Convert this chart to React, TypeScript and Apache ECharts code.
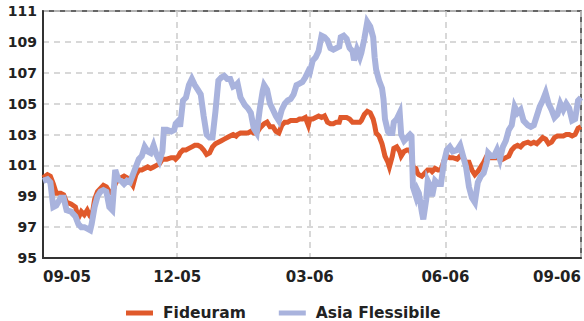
import React, { useEffect, useRef } from "react";
import * as echarts from "echarts";

const START = Date.UTC(2005, 8, 1);
const DAY = 86400000;

// day offsets from 2005-09-01
const dayOffsets = [
  0, 3, 5, 7, 9, 12, 14, 16, 19, 22, 24, 26, 28, 30, 32, 33, 35, 37, 39, 41,
  43, 45, 47, 49, 51, 53, 55, 57, 59, 61, 63, 65, 67, 69, 71, 73, 75, 77, 79, 81,
  82, 84, 87, 89, 90, 92, 93, 95, 97, 99, 101, 103, 105, 107, 109, 111, 113, 115, 117, 119,
  121, 123, 125, 127, 129, 131, 132, 134, 137, 139, 141, 143, 145, 147, 149, 150, 152, 154, 156, 158,
  160, 162, 164, 166, 168, 170, 172, 174, 176, 178, 180, 181, 183, 185, 187, 189, 191, 193, 195, 197,
  199, 201, 202, 204, 206, 208, 210, 211, 213, 215, 216, 218, 220, 222, 224, 225, 226, 228, 230, 231,
  232, 234, 235, 237, 238, 240, 242, 243, 245, 247, 249, 250, 251, 253, 254, 255, 257, 258, 260, 261,
  263, 264, 266, 268, 270, 272, 274, 276, 278, 281, 283, 285, 287, 289, 291, 293, 295, 297, 299, 301,
  302, 304, 306, 308, 310, 312, 314, 316, 318, 320, 322, 324, 326, 329, 331, 333, 335, 337, 339, 341,
  343, 345, 347, 349, 351, 353, 355, 357, 359, 361, 363, 365,
];

const fideuram = [
  100.2, 100.4, 100.3, 99.8, 99.2, 99.2, 99.1, 98.6, 98.5, 98.3, 97.6, 98.0, 97.8, 98.1, 97.7, 97.6, 98.8, 99.3, 99.5, 99.7,
  99.6, 99.3, 99.2, 99.8, 100.1, 100.2, 100.3, 100.2, 100.0, 99.7, 100.4, 100.7, 100.7, 100.8, 100.9, 100.8, 100.9, 101.0, 101.1, 101.4,
  101.4, 101.4, 101.5, 101.5, 101.4, 101.6, 101.8, 102.0, 102.0, 102.1, 102.2, 102.3, 102.3, 102.2, 102.0, 101.7, 101.8, 102.2, 102.4, 102.5,
  102.6, 102.7, 102.8, 102.9, 103.0, 102.9, 103.0, 103.1, 103.1, 103.1, 103.2, 103.1, 103.1, 103.4, 103.6, 103.7, 103.8, 103.5, 103.5, 103.2,
  103.1, 103.6, 103.8, 103.8, 103.9, 103.9, 103.9, 104.0, 104.0, 104.1, 103.6, 104.0, 104.0, 104.1, 104.2, 104.1, 104.2, 103.8, 103.7, 103.7,
  103.8, 103.8, 104.1, 104.1, 104.1, 104.0, 103.8, 103.8, 103.8, 103.8, 103.9, 104.3, 104.5, 104.4, 104.0, 103.6, 103.1, 102.9, 102.4, 102.0,
  101.6, 101.2, 100.9, 101.6, 102.1, 102.2, 101.9, 101.6, 101.9, 102.0, 102.0, 101.7, 100.9, 100.8, 100.5, 100.4, 100.3, 100.4, 100.6, 100.7,
  100.7, 100.6, 100.8, 100.7, 100.7, 101.3, 101.6, 101.5, 101.5, 101.4, 101.6, 101.5, 101.2, 101.2, 100.7, 100.4, 100.6, 100.9, 101.2, 101.6,
  101.7, 101.5, 101.5, 101.5, 101.6, 101.4, 101.5, 101.6, 102.0, 102.2, 102.3, 102.2, 102.4, 102.5, 102.4, 102.5, 102.4, 102.6, 102.8, 102.7,
  102.4, 102.5, 102.8, 102.9, 102.9, 102.9, 103.0, 103.0, 102.9, 103.0, 103.4, 103.5,
];

const asiaFlessibile = [
  100.0, 100.1, 99.9, 98.3, 98.4, 98.9, 98.9, 98.1, 98.0, 97.7, 97.2, 97.0, 97.0, 96.9, 96.8, 97.2, 98.3, 99.0, 99.3, 99.4,
  99.3, 98.3, 98.1, 100.7, 100.1, 100.0, 99.8, 100.0, 99.9, 100.4, 100.9, 101.4, 101.6, 102.2, 101.9, 101.8, 102.3, 101.7, 101.3, 101.9,
  103.3, 103.3, 103.2, 103.3, 103.7, 103.9, 103.5, 105.2, 105.4, 106.2, 106.6, 106.2, 105.9, 105.6, 104.2, 103.0, 102.8, 102.8, 104.5, 106.5,
  106.7, 106.8, 106.6, 106.6, 106.1, 106.2, 106.3, 105.4, 104.9, 104.7, 104.4, 103.4, 103.1, 104.6, 105.8, 106.2, 105.9, 105.0, 104.6, 104.2,
  103.9, 104.6, 105.0, 105.2, 105.3, 105.6, 106.2, 106.3, 106.4, 106.7, 107.1, 107.0, 107.8, 108.0, 108.4, 109.4, 109.3, 109.1, 108.6, 108.5,
  108.6, 108.7, 109.3, 109.4, 109.2, 108.6, 108.4, 107.8, 108.5, 108.0, 108.3, 109.2, 110.3, 110.0, 109.3, 108.0, 107.2, 106.5, 106.0, 105.3,
  104.0, 103.2, 103.1, 103.1, 103.8, 104.0, 104.4, 103.0, 102.6, 102.8, 103.0, 102.9, 99.6, 99.0, 99.4, 99.2, 98.0, 97.5, 98.8, 100.0,
  99.6, 99.0, 100.0, 99.8, 99.8, 101.2, 102.0, 102.2, 101.9, 102.0, 102.3, 101.6, 100.9, 99.6, 98.9, 98.6, 99.9, 100.3, 100.5, 101.2,
  101.8, 101.6, 101.6, 102.0, 101.4, 102.2, 102.6, 103.3, 103.6, 104.8, 104.4, 104.6, 103.9, 103.6, 103.5, 103.6, 104.2, 104.8, 105.2, 105.7,
  105.0, 104.6, 104.1, 104.3, 105.0, 104.6, 105.0, 104.7, 103.9, 104.0, 105.2, 105.4,
];

const seriesNames = ["Fideuram", "Asia Flessibile"];
const seriesColors = ["#E0592B", "#A9B3DD"];

// month tick positions (days from 2005-09-01) and their labels
const tickDays = [0, 91, 181, 273, 365];
const tickLabels = ["09-05", "12-05", "03-06", "06-06", "09-06"];
const yTicks = { min: 95, max: 111, interval: 2 };

export default function App() {
  const ref = useRef<HTMLDivElement>(null);
  useEffect(() => {
    if (!ref.current) return;
    document.body.style.margin = "0";
    const chart = echarts.init(ref.current, undefined, { renderer: "svg" });
    const font = "DejaVu Sans";
    const labelFor = (v: number) => {
      const i = tickDays.indexOf(Math.round(v));
      if (i >= 0) return tickLabels[i];
      const d = new Date(START + v * DAY);
      return `${String(d.getUTCMonth() + 1).padStart(2, "0")}-${String(d.getUTCFullYear() % 100).padStart(2, "0")}`;
    };
    chart.setOption({
      animation: false,
      backgroundColor: "#ffffff",
      grid: {
        left: 43,
        right: 1,
        top: 11,
        bottom: 63,
        show: true,
        borderColor: "#333333",
        borderWidth: 1.5,
      },
      legend: {
        data: seriesNames,
        left: 121,
        top: 300,
        icon: "rect",
        itemWidth: 27,
        itemHeight: 5,
        itemGap: 33,
        textStyle: {
          fontFamily: font,
          fontWeight: "bold",
          fontSize: 15.5,
          color: "#222222",
          padding: [0, 0, 0, 5],
        },
      },
      xAxis: {
        type: "value",
        min: tickDays[0],
        max: tickDays[tickDays.length - 1],
        axisLine: { show: true, lineStyle: { color: "#333333", width: 2 } },
        axisTick: { show: false, customValues: tickDays },
        axisLabel: {
          customValues: tickDays,
          formatter: (v: number) => labelFor(v),
          fontFamily: font,
          fontWeight: "bold",
          fontSize: 15,
          color: "#222222",
          margin: 11,
          alignMinLabel: "left",
          alignMaxLabel: "right",
        },
        splitLine: {
          show: true,
          lineStyle: { color: "#cccccc", type: [6, 5], width: 1.5 },
        },
      },
      yAxis: {
        type: "value",
        min: yTicks.min,
        max: yTicks.max,
        interval: yTicks.interval,
        axisLine: { show: true, lineStyle: { color: "#333333", width: 2 } },
        axisTick: { show: false },
        axisLabel: {
          fontFamily: font,
          fontWeight: "bold",
          fontSize: 14,
          color: "#222222",
          margin: 6,
        },
        splitLine: {
          show: true,
          lineStyle: { color: "#cccccc", type: [6, 5], width: 1.5 },
        },
      },
      series: [
        {
          name: seriesNames[0],
          type: "line",
          data: dayOffsets.map((x, i) => [x, fideuram[i]]),
          showSymbol: false,
          symbol: "none",
          lineStyle: { color: seriesColors[0], width: 5, join: "miter" },
          itemStyle: { color: seriesColors[0] },
        },
        {
          name: seriesNames[1],
          type: "line",
          data: dayOffsets.map((x, i) => [x, asiaFlessibile[i]]),
          showSymbol: false,
          symbol: "none",
          lineStyle: { color: seriesColors[1], width: 6, join: "miter" },
          itemStyle: { color: seriesColors[1] },
        },
      ],
    });
    return () => chart.dispose();
  }, []);
  return <div ref={ref} style={{ width: 584, height: 321 }} />;
}
